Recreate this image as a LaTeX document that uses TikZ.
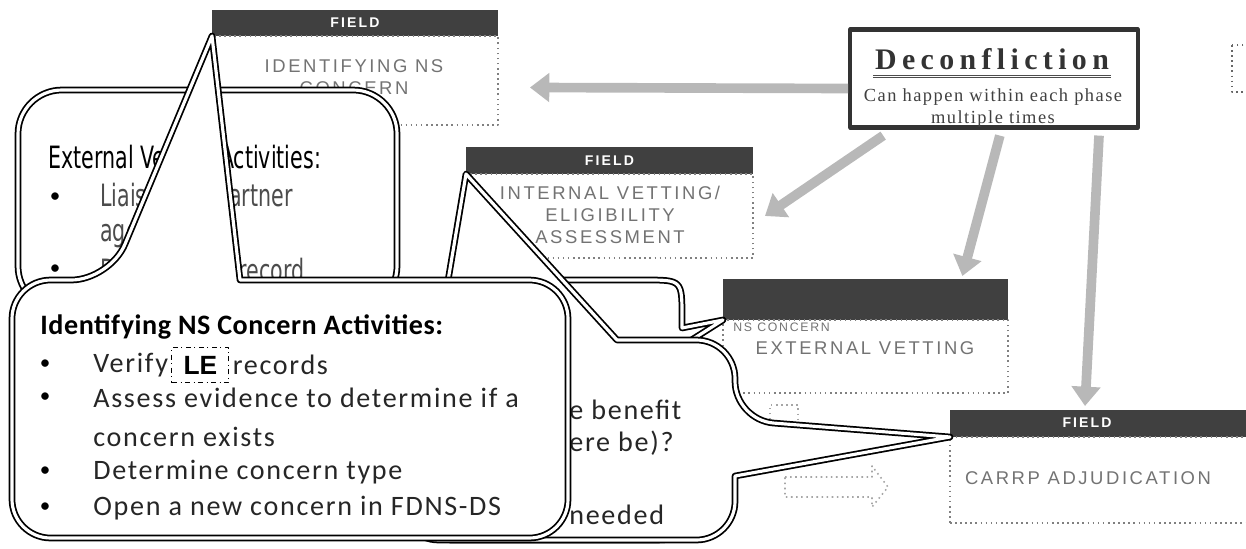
\documentclass[tikz,border=0pt]{standalone}
\usepackage{fontspec}
\setmainfont{Carlito}
\newfontfamily\capsfont[LetterSpace=14]{Liberation Sans}
\newfontfamily\headfont[LetterSpace=15]{Liberation Sans}
\newfontfamily\lefont{Liberation Sans}
\newfontfamily\narrowfont[FakeStretch=0.67]{DejaVu Sans}
\newfontfamily\titlefont[LetterSpace=18]{Liberation Serif}
\newfontfamily\notefont[LetterSpace=8]{Liberation Serif}
\newfontfamily\bodyfont[LetterSpace=6]{Carlito}
\newfontfamily\boldfont[LetterSpace=2]{Carlito}
\usetikzlibrary{arrows.meta,calc,positioning}
\tikzset{
  callout/.style={draw=black,line width=1pt,double=white,double distance=1.8pt,fill=white},
  fieldhead/.style={fill=black!75,anchor=north west,inner sep=0pt,outer sep=0pt},
  headtext/.style={text=white,font=\headfont\bfseries\fontsize{8}{9}\selectfont,inner sep=0pt},
  fieldbody/.style={draw=black!50,dotted,line width=0.9pt,fill=white,anchor=north west,inner sep=0pt,outer sep=0pt},
  boxtext/.style={text=black!55,align=center,inner sep=0pt,font=\capsfont\fontsize{10.5}{12.5}\selectfont},
  shade/.style={draw=black!28,line width=5.5pt,-{Triangle[width=16pt,length=11pt]}},
  ghost/.style={draw=black!35,dotted,line width=0.9pt},
  bul/.style={inner sep=0pt,font=\fontsize{12}{12}\selectfont},
  narrowtext/.style={anchor=west,inner sep=0pt,font=\narrowfont\fontsize{17.5}{20}\selectfont},
  bodytext/.style={anchor=west,inner sep=0pt,text=black!85,font=\bodyfont\fontsize{16}{19}\selectfont}
}
\begin{document}
\begin{tikzpicture}[x=0.02cm,y=-0.02cm,line join=round]
  \useasboundingbox (0,0) rectangle (1246,548);
  \clip (0,0) rectangle (1246,548);

  % field boxes
  \node[fieldhead,minimum width=5.72cm,minimum height=0.52cm] (f1h) at (212,10) {};
  \node[headtext] (f1t) at (f1h.center) {FIELD};
  \node[fieldbody,minimum width=5.72cm,minimum height=1.78cm] (f1) at (f1h.south west) {};
  \node[boxtext] (f1x) at (354,77) {IDENTIFYING NS\\CONCERN};

  \node[fieldhead,minimum width=5.74cm,minimum height=0.54cm] (f2h) at (466,147) {};
  \node[headtext] (f2t) at (f2h.center) {FIELD};
  \node[fieldbody,minimum width=5.74cm,minimum height=1.68cm] (f2) at (f2h.south west) {};
  \node[boxtext] (f2x) at (610,215) {INTERNAL VETTING/\\ELIGIBILITY\\ASSESSMENT};

  \node[fieldhead,minimum width=5.7cm,minimum height=0.82cm] (f3h) at (723,279) {};
  \node[fieldbody,minimum width=5.7cm,minimum height=1.46cm] (f3) at (f3h.south west) {};
  \node[boxtext,anchor=west,font=\capsfont\fontsize{7}{8}\selectfont] (f3a) at (733,327) {NS CONCERN};
  \node[boxtext] (f3b) at (865,348) {EXTERNAL VETTING};

  \node[fieldhead,minimum width=6.4cm,minimum height=0.54cm] (f4h) at (950,410) {};
  \node[headtext] (f4t) at (1087,423) {FIELD};
  \node[fieldbody,minimum width=6.4cm,minimum height=1.72cm] (f4) at (f4h.south west) {};
  \node[boxtext] (f4x) at (1088,478) {CARRP ADJUDICATION};

  \draw[draw=black!60,dotted,line width=0.9pt] (1232,45) rectangle (1262,92);

  % deconfliction
  \node[draw=black!80,line width=2.4pt,minimum width=5.75cm,minimum height=1.96cm,inner sep=0pt] (decon) at (994,78.5) {};
  \node[text=black!80,inner sep=1pt,font=\titlefont\bfseries\fontsize{17}{20}\selectfont] (dtitle) at (992,59) {Deconfliction};
  \draw[black!70,line width=0.5pt] ([yshift=-2pt]dtitle.south west) -- ([yshift=-2pt]dtitle.south east);
  \draw[black!70,line width=0.5pt] ([yshift=-3.5pt]dtitle.south west) -- ([yshift=-3.5pt]dtitle.south east);
  \node[text=black!75,align=center,font=\notefont\fontsize{10.5}{12.5}\selectfont] (dnote) at (993,108) {Can happen within each phase\\multiple times};

  \draw[shade] ($(decon.west)+(0,10)$) -- ($(f1.east)+(32,7)$);
  \draw[shade] ($(decon.south west)!0.12!(decon.south east)+(0,6)$) -- ($(f2.east)+(12,0)$);
  \draw[shade] ($(decon.south west)!0.52!(decon.south east)+(0,6)$) -- ($(f3h.north west)!0.84!(f3h.north east)+(0,-3)$);
  \draw[shade] ($(decon.south west)!0.86!(decon.south east)+(0,6)$) -- ($(f4h.north west)+(135,-4)$);

  \draw[ghost] (770,450) -- (770,405) -- (798,405) -- (798,450);
  \draw[ghost] (785,477) -- (872,477) -- (872,466) -- (888,487) -- (872,507) -- (872,497) -- (785,497) -- cycle;

  % external vetting callout
  \path[callout,rounded corners=25pt] (18,90) rectangle (397,310);
  \node[narrowtext] (ah) at (48,160) {External Vetting Activities:};
  \node[bul] (ab1) at (55,198) {\textbullet};
  \node[narrowtext,text=black!70] (at1) at (100,198) {Liaise with partner};
  \node[narrowtext,text=black!70] (at2) at (100,233) {agencies};
  \node[bul] (ab2) at (55,270) {\textbullet};
  \node[narrowtext,text=black!70] (at3) at (100,270) {Document in record};

  % callouts to the vetting boxes
  \path[callout] (560,280) -- (645,280) .. controls (682,280) .. (682,317) -- (682,328)
    -- (f3h.south west) -- (682,346) -- (682,505) .. controls (682,540) .. (647,540) -- (450,540) -- (450,280) -- cycle;
  \path[callout] (735,500) [rounded corners=22pt] -- (735,540) -- (400,540) -- (400,340)
    -- (438,340) [sharp corners] -- (f2h.south west) -- (617,340) -- (650,340)
    [rounded corners=22pt] -- (735,340) -- (735,420) [sharp corners] -- (f4h.south west) -- (735,476) -- cycle;
  \node[bodytext] (ct1) at (569,410) {e benefit};
  \node[bodytext] (ct2) at (569,443) {ere be)?};
  \node[bodytext] (ct3) at (569,515) {needed};

  % identifying callout
  \path[callout] (12,420) [rounded corners=22pt] -- (12,280) -- (110,280) [sharp corners] -- (f1h.south west)
    -- (240,280) -- (400,280) [rounded corners=22pt] -- (568,280) -- (568,538) -- (12,538) -- cycle;
  \node[anchor=west,inner sep=0pt,font=\boldfont\bfseries\fontsize{16}{19}\selectfont] (bh) at (40,327) {Identifying NS Concern Activities:};
  \foreach \y in {365,398,472,508}
    \node[bul] (bb\y) at (45,\y) {\textbullet};
  \node[bodytext] (bv) at (93,365) {Verify};
  \node[draw,dash dot,line width=0.6pt,inner sep=0pt,minimum width=1.14cm,minimum height=0.7cm,
    font=\lefont\bfseries\fontsize{15}{15}\selectfont,right=0.06cm of bv] (le) {LE};
  \node[bodytext,right=0.06cm of le] (br) {records};
  \node[bodytext] (bt2) at (93,398) {Assess evidence to determine if a};
  \node[bodytext] (bt3) at (93,437) {concern exists};
  \node[bodytext] (bt4) at (93,472) {Determine concern type};
  \node[bodytext] (bt5) at (93,508) {Open a new concern in FDNS-DS};
\end{tikzpicture}
\end{document}
